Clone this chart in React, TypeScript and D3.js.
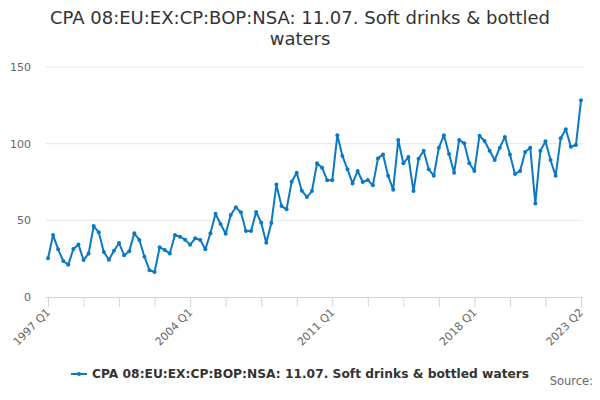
import React from 'react';
import * as d3 from 'd3';

const title = ['CPA 08:EU:EX:CP:BOP:NSA: 11.07. Soft drinks & bottled', 'waters'];
const seriesName = 'CPA 08:EU:EX:CP:BOP:NSA: 11.07. Soft drinks & bottled waters';

// quarterly values, 1997 Q1 .. 2023 Q2
const values = [
  25.2, 40.4, 31.1, 23.5, 21.1, 31.3, 34.3, 24.1, 28.3, 46.3,
  42.2, 29.3, 24.3, 30.2, 35.2, 27.2, 29.8, 41.5, 37.2, 26.3,
  17.4, 16.3, 32.4, 30.7, 28.3, 40.4, 39.3, 37.4, 34.1, 38.3,
  37.2, 31.1, 41.5, 54.3, 47.6, 41.3, 53.5, 58.5, 55.2, 43.0,
  43.0, 55.4, 48.5, 35.4, 48.3, 73.3, 59.3, 57.2, 75.2, 81.1,
  69.3, 65.2, 69.1, 87.2, 84.3, 76.1, 76.1, 105.5, 92.0, 83.3,
  74.1, 82.2, 75.0, 76.3, 72.8, 90.4, 93.0, 79.1, 70.0, 102.4,
  87.2, 91.3, 69.1, 90.2, 95.4, 83.3, 79.1, 97.4, 105.5, 93.3,
  81.1, 102.4, 100.2, 87.2, 82.2, 105.2, 101.7, 95.4, 89.3, 97.4,
  104.3, 93.0, 80.2, 82.2, 94.6, 97.4, 60.9, 95.4, 101.5, 89.3,
  79.1, 103.5, 109.4, 98.0, 99.1, 128.3,
];

const quarters = values.map((_, i) => `${1997 + Math.floor(i / 4)} Q${(i % 4) + 1}`);
const yTicks = [0, 50, 100, 150];
const labelledTicks = [0, 28, 56, 84, 105];

const W = 600;
const H = 400;
const plotLeft = 46;
const plotRight = 583;
const plotTop = 67;
const plotBottom = 297;
const font = '"DejaVu Sans", Verdana, sans-serif';
const lineColor = '#0a79c4';

export default function App() {
  const x = d3.scaleLinear().domain([0, values.length - 1]).range([48, 581]);
  const y = d3.scaleLinear().domain([0, 150]).range([plotBottom, plotTop]);

  const line = d3.line<number>()
    .x((_, i) => x(i))
    .y(d => y(d));

  // tick every 7 quarters, labels on every 4th tick plus the last
  const xTicks = d3.range(0, values.length, 7);

  return (
    <svg width={W} height={H} style={{ display: 'block', position: 'absolute', left: 0, top: 0, fontFamily: font }}>
      <rect width={W} height={H} fill="#fff" />
      {title.map((t, i) => (
        <text key={i} x={W / 2} y={24 + i * 21} textAnchor="middle" fontSize={18} fill="#333">{t}</text>
      ))}

      {yTicks.map(t => (
        <g key={t}>
          {t > 0 && <line x1={plotLeft} x2={plotRight} y1={y(t)} y2={y(t)} stroke="#e6e6e6" />}
          <text x={31} y={y(t) + 4} textAnchor="end" fontSize={11} fill="#666">{t}</text>
        </g>
      ))}

      <line x1={plotLeft} x2={plotRight} y1={plotBottom + 0.5} y2={plotBottom + 0.5} stroke="#ccd6eb" />
      {xTicks.map(i => (
        <line key={i} x1={x(i) + 0.5} x2={x(i) + 0.5} y1={plotBottom} y2={plotBottom + 10} stroke="#ccd6eb" />
      ))}
      {labelledTicks.map(i => (
        <text key={i} transform={`translate(${x(i) + 3},${plotBottom + 16}) rotate(-45)`}
          textAnchor="end" fontSize={11} fill="#666">{quarters[i]}</text>
      ))}

      <path d={line(values) || ''} fill="none" stroke={lineColor} strokeWidth={2} strokeLinejoin="round" />
      {values.map((v, i) => (
        <circle key={i} cx={x(i)} cy={y(v)} r={2} fill={lineColor} />
      ))}

      <g>
        <line x1={71} x2={87} y1={374} y2={374} stroke={lineColor} strokeWidth={2} />
        <circle cx={79} cy={374} r={2} fill={lineColor} />
        <text x={92} y={378} fontSize={12.25} fontWeight="bold" fill="#333">{seriesName}</text>
      </g>

      <text x={593} y={385} textAnchor="end" fontSize={11.5} fill="#666">Source:</text>
    </svg>
  );
}
